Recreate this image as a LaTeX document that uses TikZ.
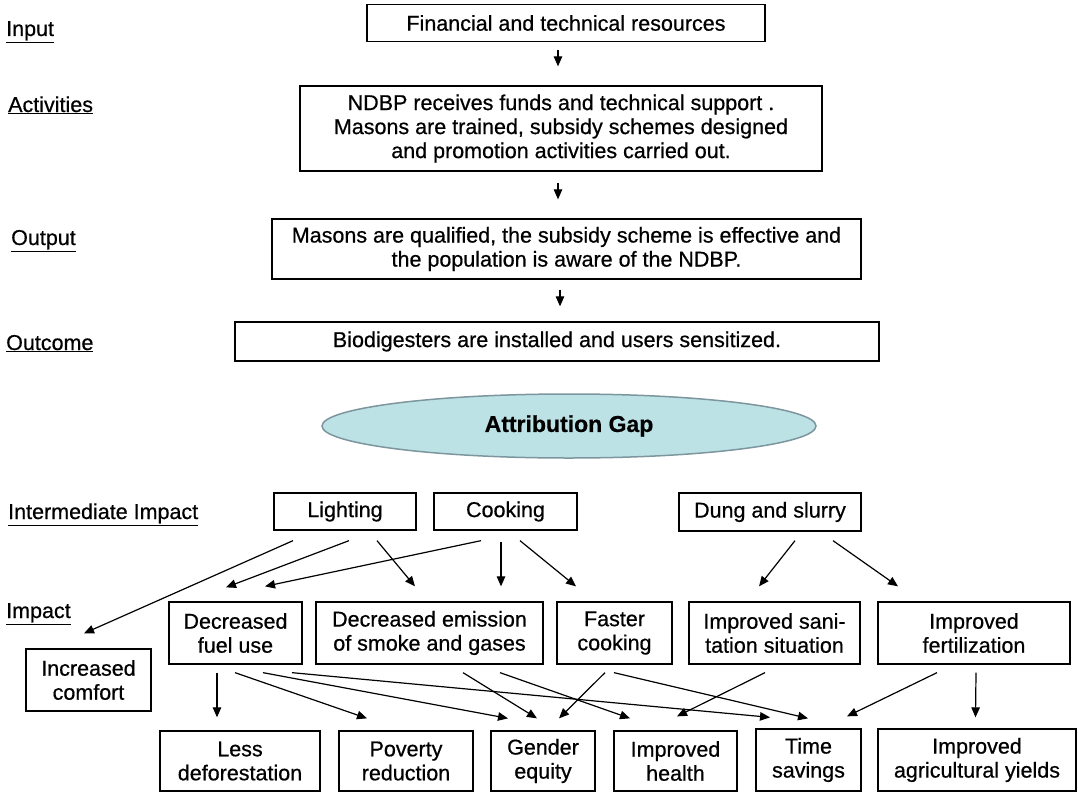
\documentclass[tikz,border=0pt]{standalone}
\usepackage{fontspec}
\setmainfont{Liberation Sans}[FakeBold=0.6]
\usetikzlibrary{arrows.meta,shapes.geometric}
\definecolor{gapfill}{RGB}{188,226,230}
\definecolor{gapdraw}{RGB}{125,150,158}
\newcommand{\ulbl}[1]{\underline{\smash{#1}\vphantom{p}}}
\begin{document}
\begin{tikzpicture}[x=1pt,y=-1pt,
  every node/.style={font=\fontsize{21.5}{24}\selectfont},
  box/.style={draw=black,line width=1.3pt,inner sep=0pt,align=center},
  lbl/.style={anchor=base west,inner sep=0pt},
  arr/.style={line width=1.2pt,-{Triangle[length=10pt,width=8.5pt]}}]
\useasboundingbox (0,0) rectangle (1078,792);
% stage labels
\node[lbl] (lin) at (6,36) {\underline{Input}};
\node[lbl] (lact) at (8,112) {\underline{Activities}};
\node[lbl] (lout) at (11,245) {\underline{Output}};
\node[lbl] (loutc) at (6,350) {\underline{Outcome}};
\node[lbl] (limm) at (8,519) {\underline{Intermediate Impact}};
\node[lbl] (limp) at (6,618) {\underline{Impact}};
% chain
\node[box,minimum width=398pt,minimum height=37pt] (input) at (566,23) {Financial and technical resources};
\node[box,minimum width=522pt,minimum height=85pt] (act) at (561,128.5) {NDBP receives funds and technical support .\\Masons are trained, subsidy schemes designed\\and promotion activities carried out.};
\node[box,minimum width=589pt,minimum height=60pt] (out) at (566.5,249) {Masons are qualified, the subsidy scheme is effective and\\the population is aware of the NDBP.};
\node[box,minimum width=644pt,minimum height=39pt] (outc) at (557,341.5) {Biodigesters are installed and users sensitized.};
\node[ellipse,draw=gapdraw,fill=gapfill,line width=1.5pt,minimum width=494pt,minimum height=64pt,inner sep=0pt,font=\fontsize{23}{26}\selectfont\bfseries] (gap) at (569,426) {Attribution Gap};
% intermediate impact
\node[box,minimum width=142pt,minimum height=37pt] (light) at (345,511.5) {Lighting};
\node[box,minimum width=143pt,minimum height=37pt] (cook) at (505.5,511.5) {Cooking};
\node[box,minimum width=182pt,minimum height=38pt] (dung) at (770,512) {Dung and slurry};
% impact
\node[box,minimum width=133pt,minimum height=62pt] (dfu) at (235.5,633) {Decreased\\fuel use};
\node[box,minimum width=227pt,minimum height=62pt] (de) at (429.5,633) {Decreased emission\\of smoke and gases};
\node[box,minimum width=115pt,minimum height=62pt] (fc) at (614.5,633) {Faster\\cooking};
\node[box,minimum width=171pt,minimum height=62pt] (iss) at (774.5,633) {Improved sani-\\tation situation};
\node[box,minimum width=192pt,minimum height=62pt] (ifz) at (974,633) {Improved\\fertilization};
\node[box,minimum width=125pt,minimum height=62pt] (comf) at (88.5,680) {Increased\\comfort};
% bottom row
\node[box,minimum width=160pt,minimum height=60pt] (ld) at (240,761) {Less\\deforestation};
\node[box,minimum width=134pt,minimum height=60pt] (pr) at (406,761) {Poverty\\reduction};
\node[box,minimum width=104pt,minimum height=60pt] (ge) at (543,761) {Gender\\equity};
\node[box,minimum width=123pt,minimum height=60pt] (ih) at (675.5,761) {Improved\\health};
\node[box,minimum width=105pt,minimum height=62pt] (ts) at (808.5,760) {Time\\savings};
\node[box,minimum width=198pt,minimum height=62pt] (iay) at (977,760) {Improved\\agricultural yields};
% top arrows
\draw[arr] ([shift={(-8,8)}]input.south) -- ([shift={(-3,-19)}]act.north);
\draw[arr] ([shift={(-3,11)}]act.south) -- ([shift={(-8.5,-19)}]out.north);
\draw[arr] ([shift={(-6.5,10)}]out.south) -- ([shift={(3,-15)}]outc.north);
% intermediate -> impact
\draw[arr] ([shift={(-52,10)}]light.south) -- ([shift={(-4.5,-15)}]comf.north);
\draw[arr] ([shift={(4,10)}]light.south) -- ([shift={(-9.5,-14)}]dfu.north);
\draw[arr] ([shift={(32,10)}]light.south) -- ([shift={(-14.5,-15)}]de.north);
\draw[arr] ([shift={(-24.5,10)}]cook.south) -- ([shift={(29.5,-15)}]dfu.north);
\draw[arr] ([shift={(-4.5,11)}]cook.south) -- ([shift={(71.5,-15)}]de.north);
\draw[arr] ([shift={(14.5,10)}]cook.south) -- ([shift={(-38.5,-15)}]fc.north);
\draw[arr] ([shift={(25,9)}]dung.south) -- ([shift={(-15.5,-15)}]iss.north);
\draw[arr] ([shift={(63,9)}]dung.south) -- ([shift={(-76,-15)}]ifz.north);
% impact -> bottom
\draw[arr] ([shift={(-18.5,8)}]dfu.south) -- ([shift={(-23,-13)}]ld.north);
\draw[arr] ([shift={(-0.5,8)}]dfu.south) -- ([shift={(-39,-12)}]pr.north);
\draw[arr] ([shift={(27.5,8)}]dfu.south) -- ([shift={(-35,-12)}]ge.north);
\draw[arr] ([shift={(56.5,8)}]dfu.south) -- ([shift={(-38.5,-11)}]ts.north);
\draw[arr] ([shift={(33.5,8)}]de.south) -- ([shift={(-6,-12)}]ge.north);
\draw[arr] ([shift={(70.5,8)}]de.south) -- ([shift={(-45.5,-12)}]ih.north);
\draw[arr] ([shift={(-9.5,8)}]fc.south) -- ([shift={(16,-12)}]ge.north);
\draw[arr] ([shift={(-0.5,8)}]fc.south) -- ([shift={(-0.5,-10)}]ts.north);
\draw[arr] ([shift={(-9.5,8)}]iss.south) -- ([shift={(1.5,-14)}]ih.north);
\draw[arr] ([shift={(-37,8)}]ifz.south) -- ([shift={(38.5,-12)}]ts.north);
\draw[arr] ([shift={(2,8)}]ifz.south) -- ([shift={(-1.5,-11)}]iay.north);
\end{tikzpicture}
\end{document}
